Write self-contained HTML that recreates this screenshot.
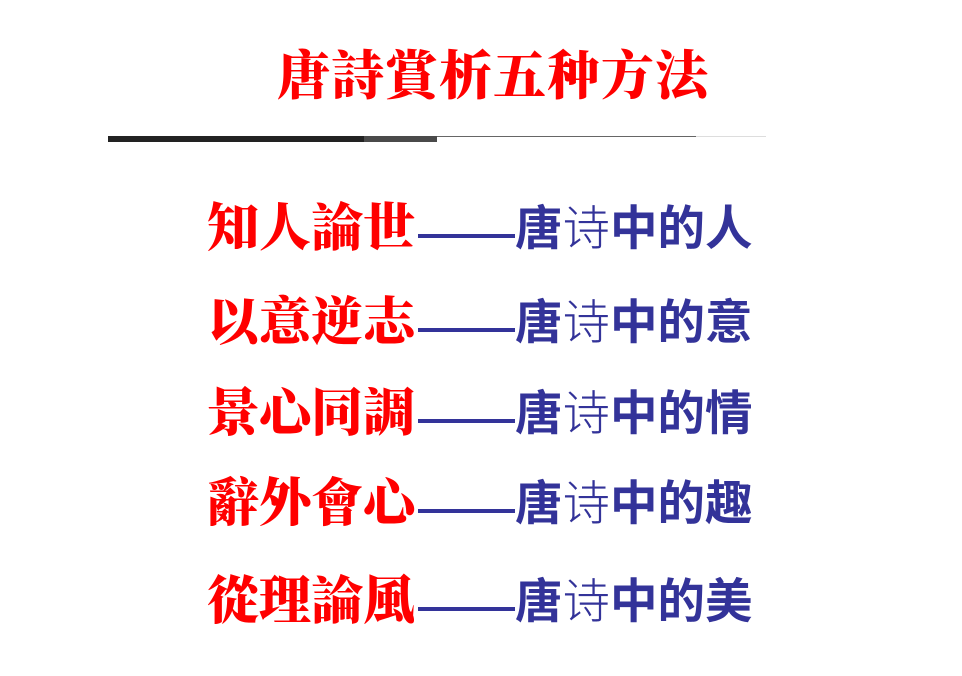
<!DOCTYPE html>
<html><head><meta charset="utf-8"><style>
html,body{margin:0;padding:0;background:#fff;width:962px;height:676px;overflow:hidden;position:relative}
.t{position:absolute;left:277px;top:47px;width:440px;height:60px;line-height:60px;font-family:"Liberation Serif","Noto Serif CJK SC",serif;font-weight:900;font-size:53px;color:#ff0000;white-space:nowrap;letter-spacing:1px}
.l{position:absolute}
.row{position:absolute;left:0;width:962px;height:60px}
.r{position:absolute;left:207px;top:0;height:60px;line-height:60px;font-family:"Liberation Serif","Noto Serif CJK SC",serif;font-weight:900;font-size:52px;color:#ff0000;white-space:nowrap}
.d{position:absolute;left:418px;width:97px;height:4px;background:#333399;top:34px}
.b{position:absolute;left:515px;top:0;height:60px;line-height:60px;font-family:"Liberation Sans","Noto Sans CJK SC",sans-serif;font-weight:700;font-size:47.5px;color:#333399;white-space:nowrap}
.b span{font-weight:300}
</style></head><body>
<div class="t">唐詩賞析五种方法</div>
<div class="l" style="left:108px;top:136px;width:256px;height:6px;background:#222"></div>
<div class="l" style="left:364px;top:136px;width:73px;height:6px;background:#4a4a4a"></div>
<div class="l" style="left:437px;top:136px;width:259px;height:1px;background:#666"></div>
<div class="l" style="left:696px;top:136px;width:70px;height:1px;background:#ddd"></div>

<div class="row" style="top:200px"><div class="r">知人論世</div><div class="d"></div><div class="b">唐<span>诗</span>中的人</div></div>
<div class="row" style="top:294px"><div class="r">以意逆志</div><div class="d"></div><div class="b">唐<span>诗</span>中的意</div></div>
<div class="row" style="top:385px"><div class="r">景心同調</div><div class="d"></div><div class="b">唐<span>诗</span>中的情</div></div>
<div class="row" style="top:475px"><div class="r">辭外會心</div><div class="d"></div><div class="b">唐<span>诗</span>中的趣</div></div>
<div class="row" style="top:573px"><div class="r">從理論風</div><div class="d"></div><div class="b">唐<span>诗</span>中的美</div></div>
</body></html>
